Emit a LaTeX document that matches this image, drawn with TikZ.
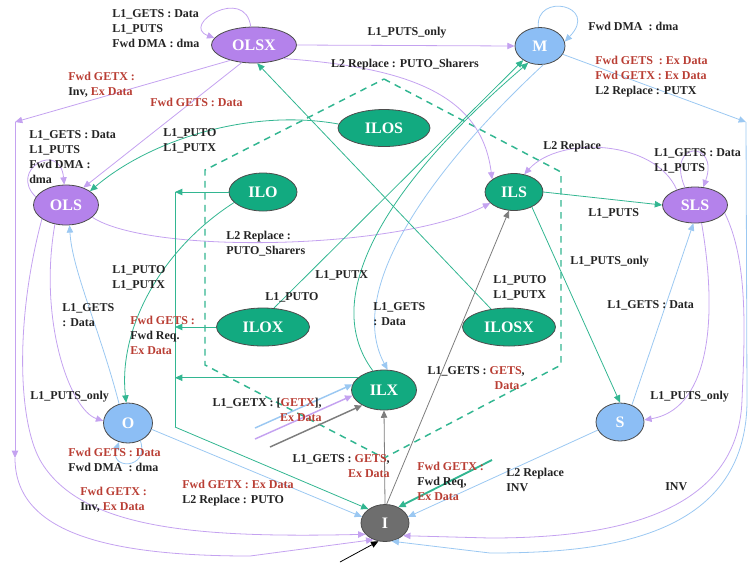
\documentclass[tikz,border=0pt]{standalone}
\usepackage{fontspec}
\setmainfont{Liberation Serif}
\usetikzlibrary{shapes.geometric,arrows.meta}
\definecolor{pfill}{RGB}{180,130,235}
\definecolor{pline}{RGB}{196,162,240}
\definecolor{bfill}{RGB}{140,190,245}
\definecolor{bline}{RGB}{155,200,242}
\definecolor{gfill}{RGB}{18,170,128}
\definecolor{gline}{RGB}{50,182,145}
\definecolor{ifill}{RGB}{110,110,110}
\definecolor{kline}{RGB}{125,125,125}
\definecolor{rtext}{RGB}{185,62,52}
\definecolor{ktext}{RGB}{35,35,35}
\newcommand\redtx[1]{\textcolor{rtext}{#1}}
\begin{document}
\begin{tikzpicture}[x=0.75pt,y=-0.75pt,
  nd/.style={ellipse,draw=black!70,line width=0.6pt,inner sep=0pt,text=white,font=\bfseries\fontsize{12}{12}\selectfont},
  pn/.style={nd,fill=pfill}, bn/.style={nd,fill=bfill}, gn/.style={nd,fill=gfill}, kn/.style={nd,fill=ifill},
  lb/.style={font=\bfseries\fontsize{9}{11.25}\selectfont,text=ktext,inner sep=0pt,align=left},
  tip/.style={-{Triangle[length=5.5pt,width=4.8pt]}},
  pe/.style={draw=pline,line width=0.6pt,tip},
  be/.style={draw=bline,line width=0.6pt,tip},
  ge/.style={draw=gline,line width=0.6pt,tip},
  ke/.style={draw=kline,line width=0.6pt,tip},
  gl/.style={draw=gline,line width=0.6pt}]
\useasboundingbox (0,0) rectangle (748,562);
\begin{scope}
\clip (0,0) rectangle (748,562);
% dashed hexagon
\draw[gline,line width=1.1pt,dash pattern=on 5pt off 4pt] (384,79) -- (561,172) -- (561,365) -- (384,458) -- (205,365) -- (205,170) -- cycle;
% nodes
\node[pn,minimum width=63.75pt,minimum height=27pt] (OLSX) at (254,45) {OLSX};
\node[bn,minimum width=37.5pt,minimum height=27.75pt] (M) at (540,46) {M};
\node[gn,minimum width=69pt,minimum height=27.75pt] (ILOS) at (384,128) {ILOS};
\node[gn,minimum width=51pt,minimum height=28.5pt] (ILO) at (263,192) {ILO};
\node[gn,minimum width=43.5pt,minimum height=27.75pt] (ILS) at (514,192) {ILS};
\node[pn,minimum width=48.75pt,minimum height=30pt] (OLS) at (66,205) {OLS};
\node[pn,minimum width=48.75pt,minimum height=27pt] (SLS) at (695,205) {SLS};
\node[gn,minimum width=69.75pt,minimum height=28.5pt] (ILOX) at (263,327) {ILOX};
\node[gn,minimum width=69.75pt,minimum height=28.5pt] (ILOSX) at (509,327) {ILOSX};
\node[gn,minimum width=48.75pt,minimum height=30pt] (ILX) at (384,390) {ILX};
\node[bn,minimum width=36.75pt,minimum height=30pt] (O) at (128,423) {O};
\node[bn,minimum width=36pt,minimum height=28.5pt] (S) at (620,422) {S};
\node[kn,minimum width=36pt,minimum height=27.75pt] (I) at (385,523) {I};
% helper coordinates
\coordinate (bA) at (15,122);
\coordinate (bB) at (15,458);
\coordinate (bus) at (175,192);
\coordinate (g4) at (175,427);
\coordinate (rA) at (746,122);
\coordinate (s1) at (255,428);
\coordinate (s2) at (255,439);
\coordinate (s3) at (270,447);
\coordinate (gs) at (492,460);
\coordinate (st) at (340,562);
% purple edges
\draw[pe] (OLSX.100) .. controls (245,-15) and (180,25) .. (OLSX.170);
\draw[pe] (OLSX.east) -- (M.west);
\draw[pe] (OLSX.-25) .. controls (420,68) and (482,100) .. (ILS.150);
\draw[pe] (OLSX.213) -- (bA);
\draw[pe] (bA) -- (bB);
\draw[pe] (bB) .. controls (15,530) and (100,556) .. (250,556) -- (I.-125);
\draw[pe] (OLSX.235) -- (OLS.45);
\draw[pe] (OLS.165) .. controls (8,170) and (60,140) .. (OLS.95);
\draw[pe] (OLS.-25) .. controls (150,255) and (400,250) .. (ILS.205);
\draw[pe] (OLS.-120) .. controls (38,320) and (70,410) .. (O.175);
\draw[pe] (OLS.210) .. controls (15,320) and (18,420) .. (40,460) .. controls (80,530) and (200,538) .. (I.-150);
\draw[pe] (SLS.140) .. controls (655,140) and (560,135) .. (ILS.60);
\draw[pe] (SLS.120) .. controls (665,140) and (720,140) .. (SLS.65);
\draw[pe] (SLS.-70) .. controls (720,330) and (705,410) .. (S.5);
\draw[pe] (SLS.-15) .. controls (748,260) and (745,330) .. (742,400) .. controls (738,520) and (600,538) .. (490,538) -- (I.-35);
% blue edges
\draw[be] (M.-20) -- (rA);
\draw[be] (rA) -- (747,400) .. controls (747,540) and (600,553) .. (490,553) -- (I.-70);
\draw[be] (M.95) .. controls (535,-8) and (600,5) .. (M.10);
\draw[be] (M.-80) .. controls (430,170) and (345,290) .. (ILX.80);
\draw[be] (S.-160) -- (I.15);
\draw[be] (S.55) -- (SLS.-95);
\draw[be] (O.-15) -- (I.165);
\draw[be] (O.-55) .. controls (150,470) and (108,470) .. (O.-115);
\draw[be] (O.115) .. controls (100,330) and (72,270) .. (OLS.-80);
% green edges
\draw[ge] (ILOS.175) .. controls (250,108) and (150,140) .. (OLS.30);
\draw[ge] (ILO.200) .. controls (160,250) and (118,330) .. (O.95);
\draw[ge] (ILO.west) -- (bus |- ILO.west);
\draw[ge] (ILOX.west) -- (bus |- ILOX.west);
\draw[ge] (ILX.155) -- (bus |- ILX.155);
\draw[gl] (bus) -- (g4);
\draw[ge] (g4) -- (I.140);
\draw[ge] (ILOSX.135) -- (OLSX.-80);
\draw[ge] (ILOX.60) -- (M.220);
\draw[ge] (ILX.120) .. controls (320,300) and (380,190) .. (M.235);
\draw[ge] (ILS.east) -- (SLS.west);
\draw[ge] (ILS.-40) -- (S.north);
\draw[ge,line width=1.4pt] (gs) -- (I.50);
% gray edges
\draw[ke] (I.north) -- (ILX.south);
\draw[ke] (I.85) -- (ILS.-105);
% stubs into ILX
\draw[be,line width=1.1pt] (s1) -- (ILX.170);
\draw[pe,line width=1.1pt] (s2) -- (ILX.190);
\draw[ke,line width=1.1pt] (s3) -- (ILX.215);
\draw[black,line width=0.6pt,tip] (st) -- (I.-110);
% labels
\node[lb,anchor=west] (t1) at (112,29) {L1\_GETS : Data\\L1\_PUTS\\Fwd DMA : dma};
\node[lb] (t2) at (407,33) {L1\_PUTS\_only};
\node[lb] (t3) at (405,65) {L2 Replace : PUTO\_Sharers};
\node[lb,anchor=west] (t4) at (68,84.5) {\redtx{Fwd GETX :}\\Inv, \redtx{Ex Data}};
\node[lb,anchor=west] (t5) at (150,102) {\redtx{Fwd GETS : Data}};
\node[lb,anchor=west] (t6) at (29,157) {L1\_GETS : Data\\L1\_PUTS\\Fwd DMA :\\dma};
\node[lb,anchor=west] (t7) at (163,141) {L1\_PUTO\\L1\_PUTX};
\node[lb,anchor=west] (t8) at (226,244) {L2 Replace :\\PUTO\_Sharers};
\node[lb,anchor=west] (t9) at (112,278) {L1\_PUTO\\L1\_PUTX};
\node[lb,anchor=west] (t10) at (62,315) {L1\_GETS\\: Data};
\node[lb,anchor=west] (t11) at (130,335) {\redtx{Fwd GETS :}\\Fwd Req.\\\redtx{Ex Data}};
\node[lb,anchor=west] (t12) at (30,397) {L1\_PUTS\_only};
\node[lb,anchor=west] (t13) at (68,460) {\redtx{Fwd GETS : Data}\\Fwd DMA \ : dma};
\node[lb,anchor=west] (t14) at (80,500) {\redtx{Fwd GETX :}\\Inv, \redtx{Ex Data}};
\node[lb,anchor=west] (t15) at (182,493) {\redtx{Fwd GETX : Ex Data}\\L2 Replace : PUTO};
\node[lb,anchor=east,align=right] (t16) at (390,466) {L1\_GETS : \redtx{GETS},\\\redtx{Ex Data}};
\node[lb,anchor=west] (t17) at (417,481) {\redtx{Fwd GETX :}\\Fwd Req,\\\redtx{Ex Data}};
\node[lb,anchor=west] (t18) at (506,480) {L2 Replace\\INV};
\node[lb,anchor=west] (t19) at (665,487) {INV};
\node[lb,anchor=east,align=right] (t20) at (322,410) {L1\_GETX : [\redtx{GETX}],\\\redtx{Ex Data}};
\node[lb,anchor=west] (t21) at (265,297) {L1\_PUTO};
\node[lb,anchor=west] (t22) at (315,275) {L1\_PUTX};
\node[lb,anchor=west] (t23) at (373,314) {L1\_GETS\\: Data};
\node[lb,anchor=east,align=right] (t24) at (525,378) {L1\_GETS : \redtx{GETS},\\\redtx{Data}\hspace*{4pt}};
\node[lb,anchor=west] (t25) at (493,288) {L1\_PUTO\\L1\_PUTX};
\node[lb,anchor=west] (t26) at (543,147) {L2 Replace};
\node[lb,anchor=west] (t27) at (654,161) {L1\_GETS : Data\\L1\_PUTS};
\node[lb,anchor=west] (t28) at (588,213) {L1\_PUTS};
\node[lb,anchor=west] (t29) at (570,262) {L1\_PUTS\_only};
\node[lb,anchor=west] (t30) at (607,305) {L1\_GETS : Data};
\node[lb,anchor=west] (t31) at (650,397) {L1\_PUTS\_only};
\node[lb,anchor=west] (t32) at (588,26) {Fwd DMA \ : dma};
\node[lb,anchor=west] (t33) at (595,77) {\redtx{Fwd GETS \ : Ex Data}\\\redtx{Fwd GETX : Ex Data}\\L2 Replace : PUTX};
\end{scope}
\end{tikzpicture}
\end{document}
